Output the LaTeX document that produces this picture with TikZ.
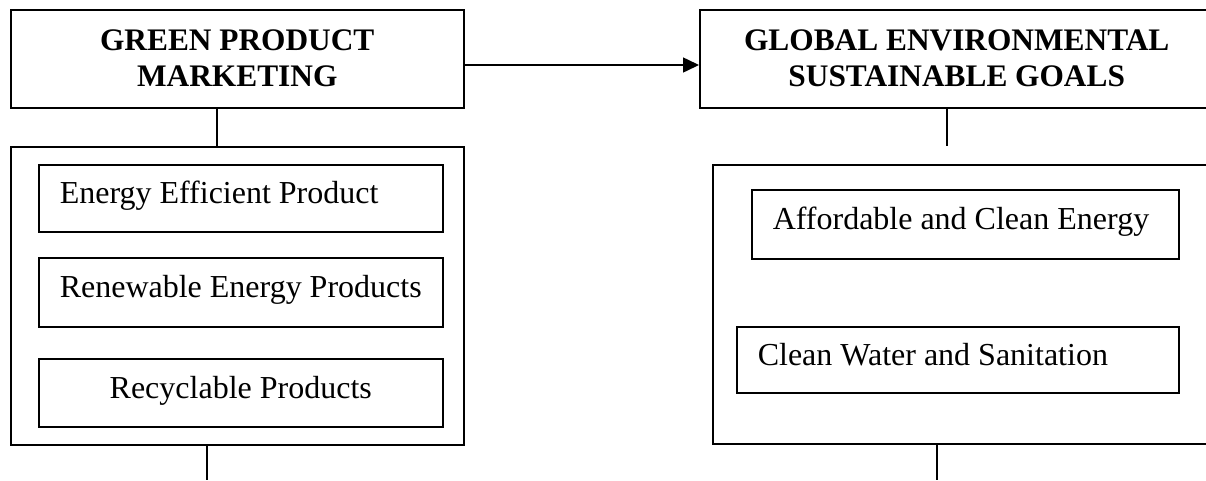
\documentclass[tikz,border=0pt]{standalone}
\usepackage{fontspec}
\setmainfont{Liberation Serif}
\usetikzlibrary{arrows.meta}
\begin{document}
\begin{tikzpicture}[x=1pt,y=-1pt,
  frame/.style={draw, line width=1.5pt, rectangle, inner sep=0pt, anchor=north west},
  titlebox/.style={frame, font=\fontsize{31.35}{36}\selectfont\bfseries, align=center},
  itembox/.style={frame, font=\fontsize{32}{36}\selectfont, text height=17pt, text depth=6pt},
  conn/.style={line width=1.5pt}
]
\useasboundingbox (0,0) rectangle (1206,480);
\clip (0,0) rectangle (1206,480);
\node[titlebox, minimum width=453pt, minimum height=98pt] (gpm) at (10,9) {GREEN PRODUCT\\MARKETING};
\node[titlebox, minimum width=514pt, minimum height=98pt] (gesg) at (699,9) {GLOBAL ENVIRONMENTAL\\SUSTAINABLE GOALS};
\node[frame, minimum width=453pt, minimum height=298pt] (lgroup) at (10,146) {};
\node[frame, minimum width=505pt, minimum height=279pt] (rgroup) at (712,164) {};
\node[itembox, minimum width=404pt, minimum height=67pt, inner xsep=21pt] (eep) at (38,164) {\makebox[362pt][l]{Energy Efficient Product}};
\node[itembox, minimum width=404pt, minimum height=69pt, inner xsep=21pt] (rep) at (38,257) {\makebox[362pt][l]{Renewable Energy Products}};
\node[itembox, minimum width=404pt, minimum height=68pt] (rp) at (38,358) {Recyclable Products};
\node[itembox, minimum width=427pt, minimum height=69pt, inner xsep=21pt] (ace) at (751,189) {\makebox[385pt][l]{Affordable and Clean Energy}};
\node[itembox, minimum width=442pt, minimum height=66pt, inner xsep=21pt] (cws) at (736,326) {\makebox[400pt][l]{Clean Water and Sanitation}};
\coordinate (gl) at (217,0);
\coordinate (ay) at (0,65);
\coordinate (gr) at (947,146);
\coordinate (ll) at (207,480);
\coordinate (rl) at (937,480);
\draw[conn] (gpm.south -| gl) -- (lgroup.north -| gl);
\draw[conn, -{Triangle[length=16pt,width=15pt]}] (gpm.east |- ay) -- (gesg.west |- ay);
\draw[conn] (gesg.south -| gr) -- (gr);
\draw[conn] (lgroup.south -| ll) -- (ll);
\draw[conn] (rgroup.south -| rl) -- (rl);
\end{tikzpicture}
\end{document}
